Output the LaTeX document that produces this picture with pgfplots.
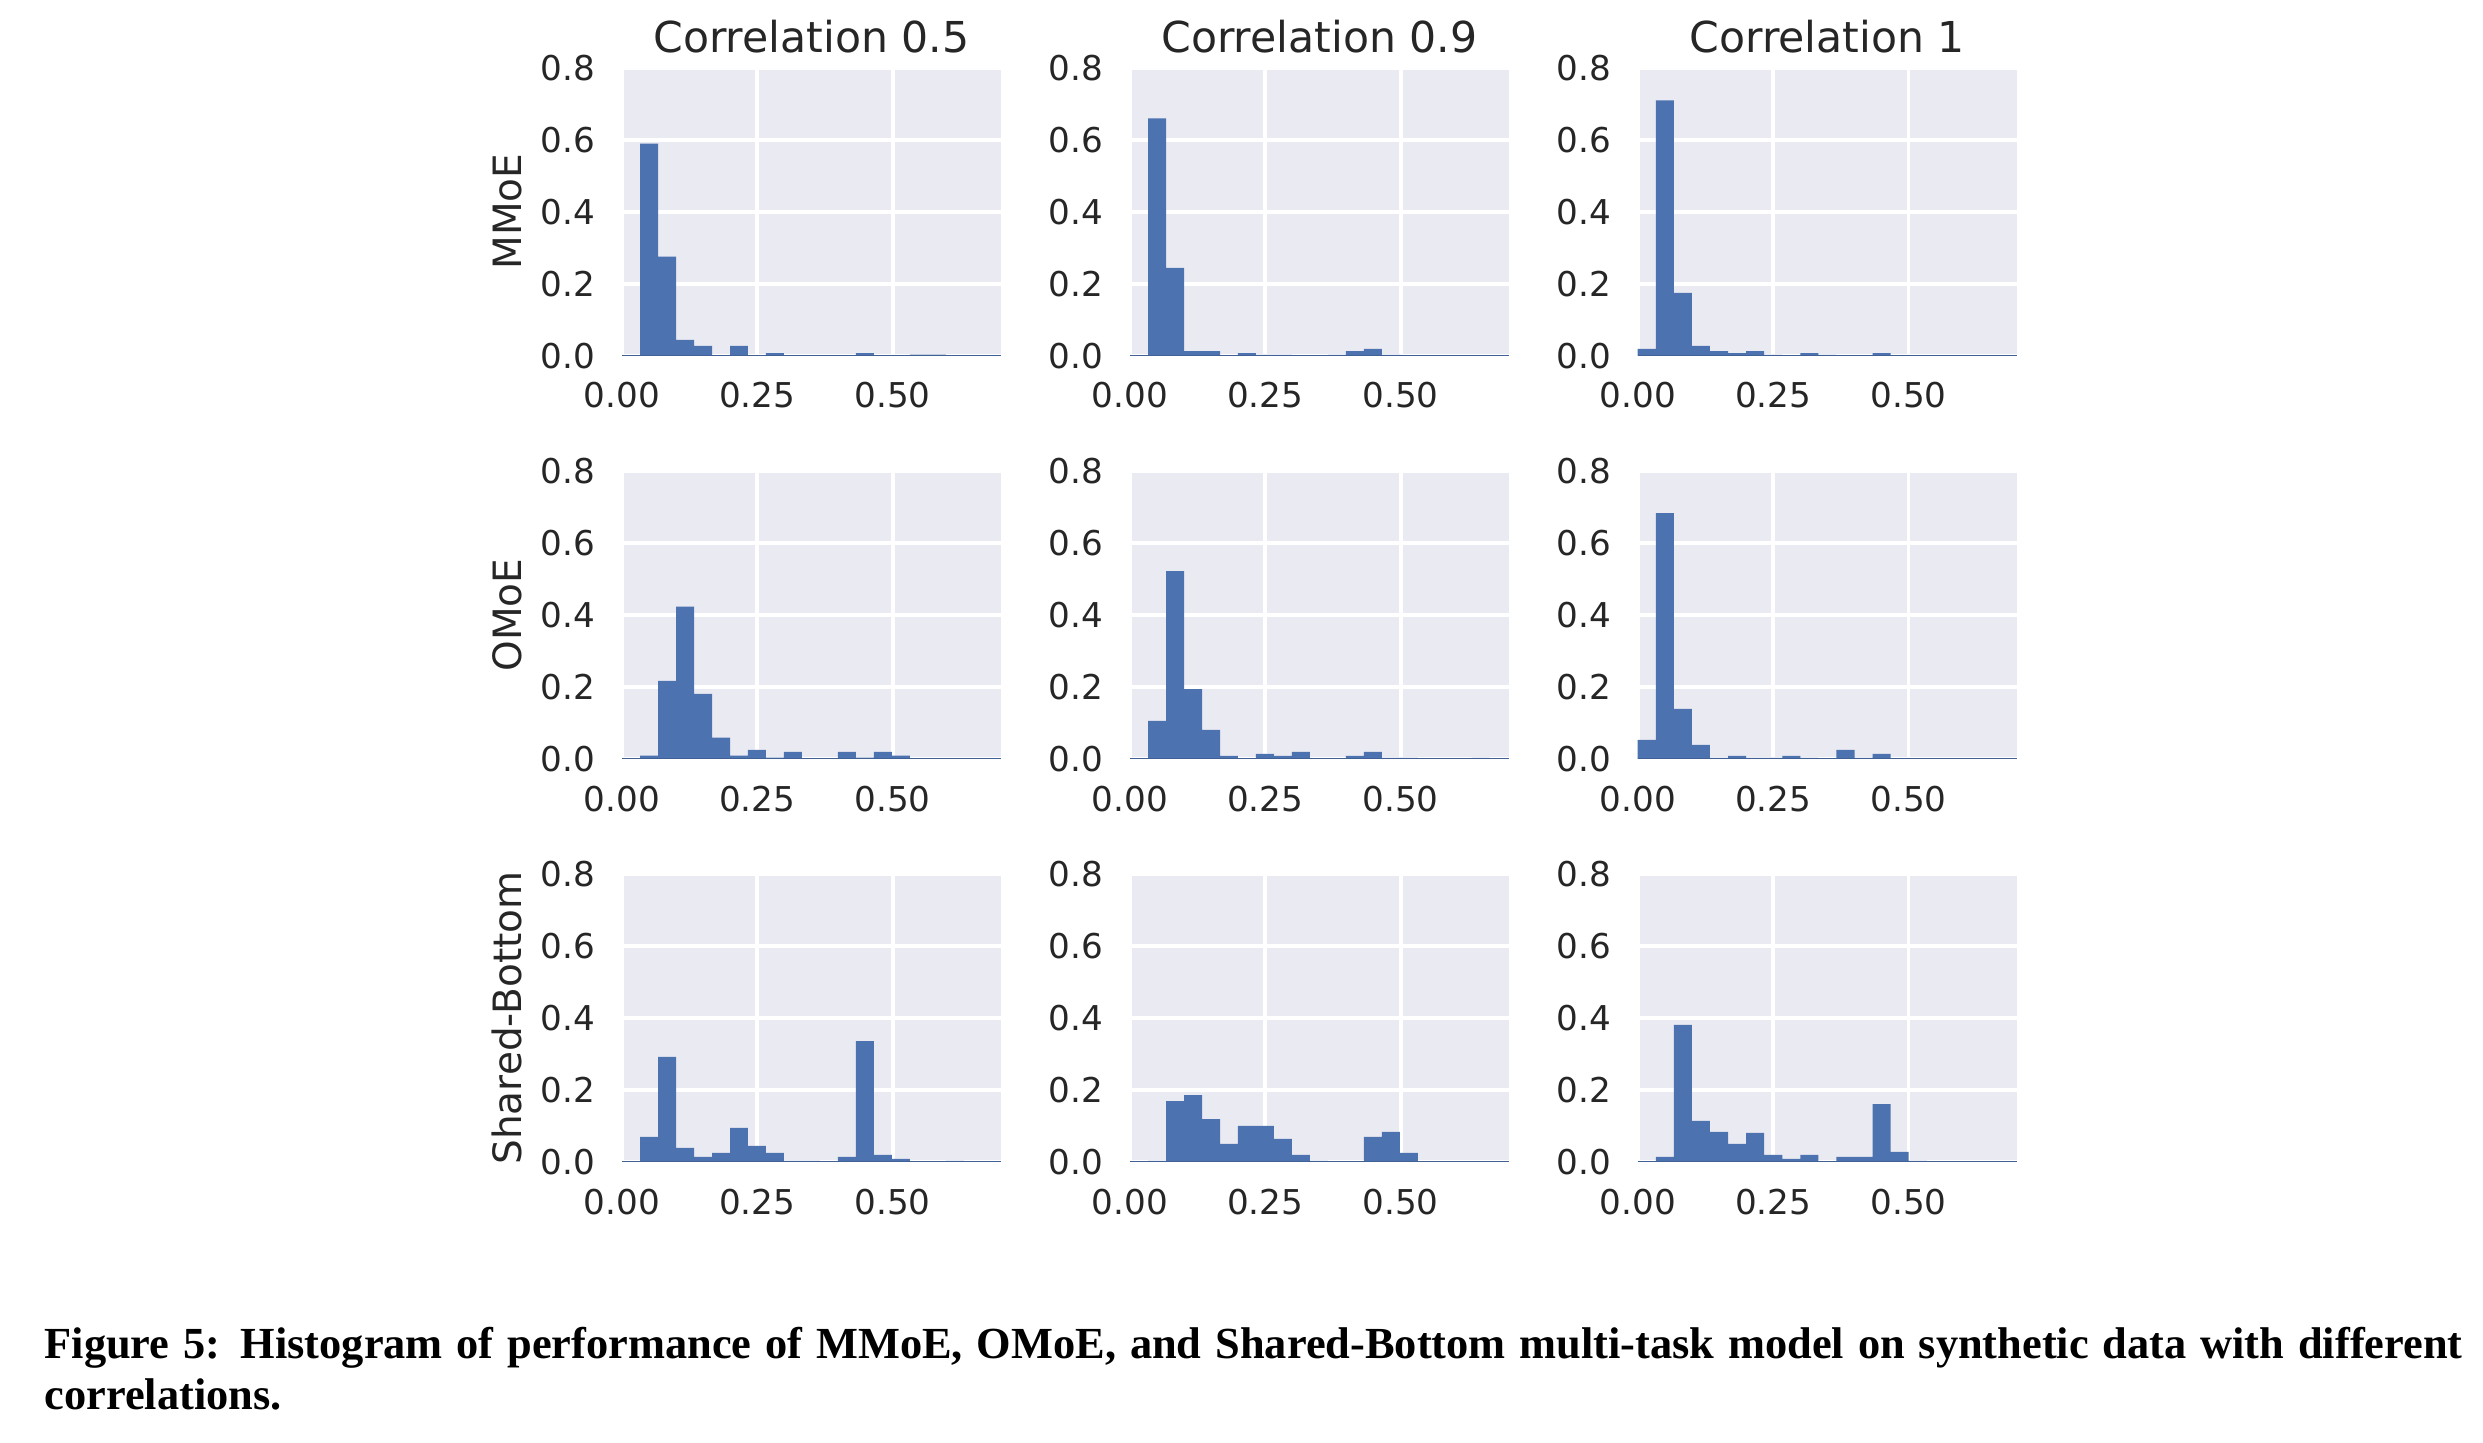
\documentclass[border=0pt]{standalone}
\usepackage{fontspec}
\setmainfont{DejaVu Sans}
\newfontfamily\capfont{Liberation Serif}
\usepackage{pgfplots}
\usepackage{pgfplotstable}
\pgfplotsset{compat=1.18}

\definecolor{sbbg}{HTML}{EAEAF2}
\definecolor{sbblue}{HTML}{4C72B0}
\definecolor{txt}{HTML}{262626}

% bin edges: columns 1-2 start at 0.0336, column 3 at 0
\pgfplotstableread{
x y
0.0336 0.589
0.0668 0.275
0.1000 0.044
0.1332 0.027
0.1664 0
0.1996 0.027
0.2328 0
0.2660 0.0074
0.2992 0
0.3324 0
0.3656 0
0.3988 0
0.4320 0.0074
0.4652 0
0.4984 0
0.5316 0.003
0.5648 0.003
0.5980 0
0.6312 0
0.6644 0
0.6976 0
}\mmoeA
\pgfplotstableread{
x y
0.0336 0.659
0.0668 0.244
0.1000 0.013
0.1332 0.013
0.1664 0
0.1996 0.0074
0.2328 0.002
0.2660 0.002
0.2992 0
0.3324 0
0.3656 0.002
0.3988 0.013
0.4320 0.0186
0.4652 0.002
0.4984 0
0.5316 0
0.5648 0
0.5980 0
0.6312 0
0.6644 0
0.6976 0
}\mmoeB
\pgfplotstableread{
x y
0.0000 0.0186
0.0334 0.709
0.0667 0.1745
0.1001 0.027
0.1334 0.013
0.1668 0.0074
0.2002 0.013
0.2335 0.002
0.2669 0
0.3002 0.0074
0.3336 0.002
0.3670 0
0.4003 0
0.4337 0.0074
0.4670 0
0.5004 0
0.5338 0
0.5671 0
0.6005 0
0.6338 0
0.6672 0
0.7006 0
}\mmoeC
\pgfplotstableread{
x y
0.0336 0.0093
0.0668 0.2167
0.1000 0.423
0.1332 0.1806
0.1664 0.0593
0.1996 0.0093
0.2328 0.025
0.2660 0.0037
0.2992 0.0194
0.3324 0
0.3656 0
0.3988 0.0194
0.4320 0.0037
0.4652 0.0194
0.4984 0.0093
0.5316 0
0.5648 0
0.5980 0
0.6312 0
0.6644 0
0.6976 0
}\omoeA
\pgfplotstableread{
x y
0.0336 0.1056
0.0668 0.522
0.1000 0.194
0.1332 0.0806
0.1664 0.0083
0.1996 0
0.2328 0.0139
0.2660 0.0083
0.2992 0.0194
0.3324 0
0.3656 0
0.3988 0.0083
0.4320 0.0194
0.4652 0.0028
0.4984 0.0028
0.5316 0
0.5648 0
0.5980 0
0.6312 0.0028
0.6644 0
0.6976 0
}\omoeB
\pgfplotstableread{
x y
0.0000 0.0528
0.0334 0.683
0.0667 0.139
0.1001 0.0389
0.1334 0.0028
0.1668 0.0083
0.2002 0.0028
0.2335 0.0028
0.2669 0.0083
0.3002 0.0028
0.3336 0
0.3670 0.025
0.4003 0.0028
0.4337 0.0139
0.4670 0
0.5004 0
0.5338 0
0.5671 0
0.6005 0
0.6338 0
0.6672 0
0.7006 0
}\omoeC
\pgfplotstableread{
x y
0.0336 0.0694
0.0668 0.2917
0.1000 0.0389
0.1332 0.0139
0.1664 0.025
0.1996 0.0944
0.2328 0.0444
0.2660 0.025
0.2992 0.0028
0.3324 0.0028
0.3656 0
0.3988 0.0139
0.4320 0.336
0.4652 0.0194
0.4984 0.0083
0.5316 0
0.5648 0
0.5980 0.0028
0.6312 0
0.6644 0
0.6976 0
}\sbA
\pgfplotstableread{
x y
0.0336 0.0028
0.0668 0.169
0.1000 0.186
0.1332 0.119
0.1664 0.05
0.1996 0.1
0.2328 0.1
0.2660 0.0639
0.2992 0.0194
0.3324 0.0028
0.3656 0
0.3988 0
0.4320 0.0694
0.4652 0.0833
0.4984 0.025
0.5316 0
0.5648 0
0.5980 0
0.6312 0
0.6644 0
0.6976 0
}\sbB
\pgfplotstableread{
x y
0.0000 0
0.0334 0.0139
0.0667 0.3806
0.1001 0.1139
0.1334 0.0833
0.1668 0.05
0.2002 0.0806
0.2335 0.0194
0.2669 0.0083
0.3002 0.0194
0.3336 0
0.3670 0.0139
0.4003 0.0139
0.4337 0.161
0.4670 0.0278
0.5004 0.0028
0.5338 0
0.5671 0
0.6005 0
0.6338 0
0.6672 0
0.7006 0
}\sbC

\pgfplotsset{
  panel/.style={
    scale only axis, width=126.37pt, height=96pt,
    anchor=south west,
    xmin=0, xmax=0.7, ymin=0, ymax=0.8,
    axis background/.style={fill=sbbg},
    axis line style={draw=none},
    major tick length=0pt,
    grid=major,
    grid style={white, line width=1.3pt},
    xtick={0,0.25,0.5}, xticklabels={0.00,0.25,0.50},
    ytick={0,0.2,0.4,0.6,0.8}, yticklabels={0.0,0.2,0.4,0.6,0.8},
    /pgf/number format/assume math mode=true,
    tick label style={font=\fontsize{11.4}{13}\selectfont, text=txt, inner sep=0pt},
    xticklabel style={anchor=north, yshift=-8.7pt},
    yticklabel style={anchor=east, xshift=-8.7pt},
    % default title style already shifts by 6pt
    title style={font=\fontsize{14.2}{17}\selectfont, text=txt, inner sep=0pt,
      at={(0.5,1)}, anchor=base, yshift=-0.8pt},
  },
  hbar/.style={ybar interval, fill=sbblue, draw=none},
  base/.style={color=sbblue!85!black, line width=0.6pt},
}

\begin{document}
\begin{tikzpicture}
\path[use as bounding box] (0,0) rectangle (827.67pt,481pt);

% row 1: MMoE
\begin{axis}[panel, name=r1, at={(207.3pt,362.43pt)}, title={Correlation 0.5}]
\addplot[hbar] table {\mmoeA};
\addplot[base] coordinates {(0,0) (0.7,0)};
\end{axis}
\begin{axis}[panel, at={(376.63pt,362.43pt)}, title={Correlation 0.9}]
\addplot[hbar] table {\mmoeB};
\addplot[base] coordinates {(0,0) (0.7,0)};
\end{axis}
\begin{axis}[panel, at={(545.9pt,362.43pt)}, title={Correlation 1}]
\addplot[hbar] table {\mmoeC};
\addplot[base] coordinates {(0,0) (0.7,0)};
\end{axis}

% row 2: OMoE
\begin{axis}[panel, name=r2, at={(207.3pt,228pt)}]
\addplot[hbar] table {\omoeA};
\addplot[base] coordinates {(0,0) (0.7,0)};
\end{axis}
\begin{axis}[panel, at={(376.63pt,228pt)}]
\addplot[hbar] table {\omoeB};
\addplot[base] coordinates {(0,0) (0.7,0)};
\end{axis}
\begin{axis}[panel, at={(545.9pt,228pt)}]
\addplot[hbar] table {\omoeC};
\addplot[base] coordinates {(0,0) (0.7,0)};
\end{axis}

% row 3: Shared-Bottom
\begin{axis}[panel, name=r3, at={(207.3pt,93.67pt)}]
\addplot[hbar] table {\sbA};
\addplot[base] coordinates {(0,0) (0.7,0)};
\end{axis}
\begin{axis}[panel, at={(376.63pt,93.67pt)}]
\addplot[hbar] table {\sbB};
\addplot[base] coordinates {(0,0) (0.7,0)};
\end{axis}
\begin{axis}[panel, at={(545.9pt,93.67pt)}]
\addplot[hbar] table {\sbC};
\addplot[base] coordinates {(0,0) (0.7,0)};
\end{axis}

% row labels
\foreach \n/\t in {r1/MMoE, r2/OMoE, r3/Shared-Bottom}
  \node[rotate=90, anchor=south, inner sep=0pt, text=txt,
        font=\fontsize{13}{15}\selectfont] at ([xshift=-33pt]\n.west) {\t};

% caption
\node[anchor=base west, inner sep=0pt, font=\capfont\bfseries\fontsize{14.8}{17}\selectfont]
  at (14.67pt,28pt)
  {\makebox[806pt][s]{Figure 5: Histogram of performance of MMoE, OMoE, and Shared-Bottom multi-task model on synthetic data with different}};
\node[anchor=base west, inner sep=0pt, font=\capfont\bfseries\fontsize{14.8}{17}\selectfont]
  at (14.67pt,11pt) {correlations.};
\end{tikzpicture}
\end{document}
